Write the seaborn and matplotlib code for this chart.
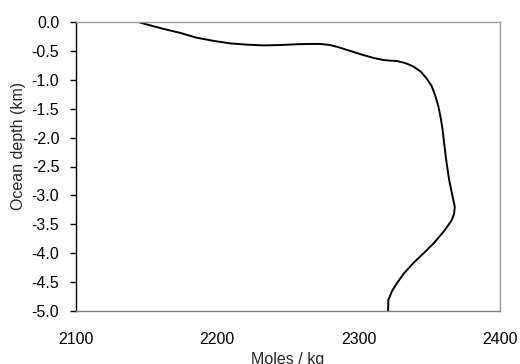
import matplotlib
matplotlib.use("Agg")
import matplotlib.pyplot as plt
import seaborn as sns
import pandas as pd

# Alkalinity profile: concentration (moles / kg) against ocean depth (km)
moles = [2144, 2152, 2162, 2174, 2185, 2197, 2209, 2221, 2232.5, 2245,
         2256, 2265, 2272.6, 2279, 2284.4, 2294, 2303, 2311, 2317.5, 2322,
         2327, 2333, 2338.7, 2344, 2348, 2351.5, 2354, 2356.3, 2358, 2359.3,
         2360.5, 2362, 2364, 2366.3, 2368, 2367.5, 2365.8, 2361, 2353, 2346,
         2338.7, 2332, 2327, 2323.5, 2321, 2320.8]
depth = [0.0, -0.055, -0.12, -0.19, -0.27, -0.325, -0.37, -0.392, -0.405,
         -0.398, -0.385, -0.38, -0.38, -0.395, -0.427, -0.5, -0.57, -0.625,
         -0.657, -0.668, -0.675, -0.71, -0.77, -0.86, -0.975, -1.1, -1.26,
         -1.45, -1.65, -1.85, -2.1, -2.4, -2.73, -3.0, -3.2, -3.32, -3.43,
         -3.6, -3.83, -4.0, -4.17, -4.35, -4.52, -4.66, -4.81, -5.0]

x_ticks = [2100, 2200, 2300, 2400]
y_ticks = [0.0, -0.5, -1.0, -1.5, -2.0, -2.5, -3.0, -3.5, -4.0, -4.5, -5.0]

df = pd.DataFrame({"moles": moles, "depth": depth})

sns.set_theme(style="white")
plt.rcParams["font.family"] = ["Liberation Sans", "DejaVu Sans"]

fig = plt.figure(figsize=(5.2, 3.64), dpi=100)
ax = fig.add_axes([76 / 520, 1 - 311 / 364, 424 / 520, 289 / 364])

sns.lineplot(data=df, x="moles", y="depth", sort=False, estimator=None,
             color="black", linewidth=1.4, ax=ax)

ax.set_xlim(2100, 2400)
ax.set_ylim(-5.0, 0.0)
ax.set_xticks(x_ticks)
ax.set_xticklabels([str(v) for v in x_ticks])
ax.set_yticks(y_ticks)
ax.set_yticklabels([f"{v:.1f}" if v != 0 else "0.0" for v in y_ticks])

fs = 11.5
ax.tick_params(axis="x", length=0, pad=15, labelsize=fs, colors="black")
ax.tick_params(axis="y", length=4, width=1, direction="out", pad=8,
               labelsize=fs, colors="black", left=True)

for side in ["top", "right"]:
    ax.spines[side].set_visible(True)
    ax.spines[side].set_color("#9a9a9a")
    ax.spines[side].set_linewidth(1.0)
ax.spines["bottom"].set_color("#808080")
ax.spines["bottom"].set_linewidth(1.0)
ax.spines["left"].set_color("black")
ax.spines["left"].set_linewidth(1.0)
ax.grid(False)

ax.set_xlabel("Moles / kg", fontsize=fs, labelpad=3.5)
ax.set_ylabel("Ocean depth (km)", fontsize=fs)
ax.yaxis.set_label_coords(-0.118, 0.571)

fig.savefig("out.png", dpi=100)
